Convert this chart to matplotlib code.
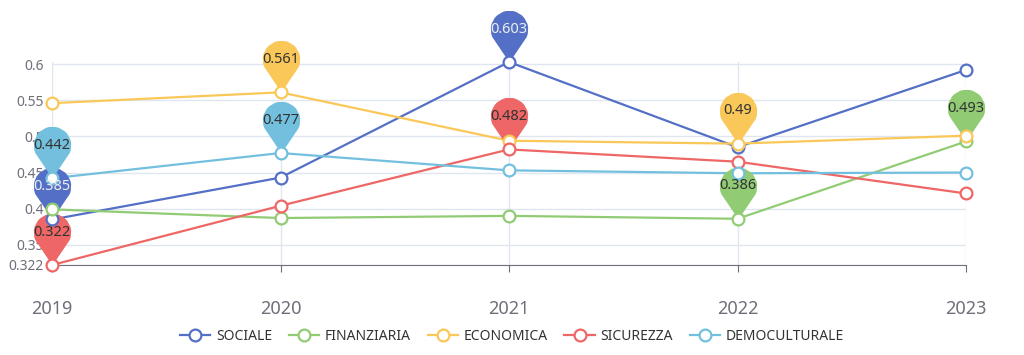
import numpy as np
import matplotlib.pyplot as plt
from matplotlib.path import Path
from matplotlib.lines import Line2D

plt.rcParams['font.family'] = ['Noto Sans', 'DejaVu Sans']

# Dati
anni = ['2019', '2020', '2021', '2022', '2023']
sociale = [0.385, 0.443, 0.603, 0.485, 0.592]
finanziaria = [0.399, 0.387, 0.390, 0.386, 0.493]
economica = [0.546, 0.561, 0.494, 0.490, 0.501]
sicurezza = [0.322, 0.404, 0.482, 0.465, 0.421]
democulturale = [0.442, 0.477, 0.453, 0.449, 0.450]

serie = ['SOCIALE', 'FINANZIARIA', 'ECONOMICA', 'SICUREZZA', 'DEMOCULTURALE']
valori = [sociale, finanziaria, economica, sicurezza, democulturale]
colori = ['#5470c6', '#91cc75', '#fac858', '#ee6666', '#73c0de']
colori_testo = ['#eeeeee', '#333333', '#333333', '#333333', '#333333']

# Forma del "pin" (punta in basso sul punto, testa circolare sopra)
r, c = 18.5, 33.0
ang = np.degrees(np.arccos(r / c))
arco = Path.arc(-90 + ang, 270 - ang)
verts = arco.vertices * r + np.array([0, c])
verts = np.vstack([[0, 0], verts, [0, 0]])
codes = [Path.MOVETO] + [Path.LINETO] * (len(verts) - 2) + [Path.CLOSEPOLY]
pin = Path(verts, codes)
pin_size = (c + r) * 0.72 * 2

fig = plt.figure(figsize=(10.24, 3.55), dpi=100)
ax = fig.add_axes([52 / 1024, 1 - 265 / 355, (966 - 52) / 1024, (265 - 62) / 355])

x = np.arange(len(anni))
for nome, v, col, tcol in zip(serie, valori, colori, colori_testo):
    ax.plot(x, v, color=col, lw=1.6, zorder=2)
    ax.plot(x, v, ls='none', marker='o', ms=8.5, mfc='white', mec=col, mew=1.6,
            zorder=4, clip_on=False)
    for i in [int(np.argmax(v)), int(np.argmin(v))]:
        ax.plot(x[i], v[i], marker=pin, ms=pin_size, color=col, mew=0,
                ls='none', zorder=3, clip_on=False)
        ax.annotate(f'{v[i]:g}', (x[i], v[i]), xytext=(0, c * 0.72),
                    textcoords='offset points', ha='center', va='center',
                    fontsize=10.5, color=tcol, zorder=5, annotation_clip=False)

ax.set_xlim(0, len(anni) - 1)
ax.set_ylim(0.322, 0.603)
ax.set_xticks(x)
ax.set_xticklabels(anni, fontsize=13, color='#6e7079')
ax.set_yticks([0.322, 0.35, 0.4, 0.45, 0.5, 0.55, 0.6])
ax.set_yticklabels(['0.322', '0.35', '0.4', '0.45', '0.5', '0.55', '0.6'],
                   fontsize=10, color='#6e7079')
ax.tick_params(axis='y', length=0, pad=6)
ax.tick_params(axis='x', length=5, color='#6e7079', pad=20)
ax.grid(True, color='#e0e6f1', lw=1, zorder=0)
for s in ['top', 'right', 'left']:
    ax.spines[s].set_visible(False)
ax.spines['bottom'].set_color('#6e7079')

handles = [Line2D([0], [0], color=col, lw=1.6, marker='o', ms=8.5, mfc='white',
                  mec=col, mew=1.6) for col in colori]
fig.legend(handles, serie, loc='center', bbox_to_anchor=(0.5, 1 - 336 / 355),
           ncol=5, frameon=False, fontsize=10, handlelength=2.2,
           handletextpad=0.4, columnspacing=1.2, labelcolor='#333333')

fig.savefig('out.png', dpi=100)
